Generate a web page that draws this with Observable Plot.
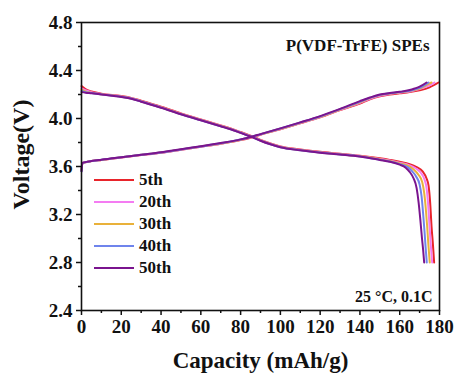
<!DOCTYPE html>
<html>
<head>
<meta charset="utf-8">
<script src="https://cdn.jsdelivr.net/npm/d3@7"></script>
<script src="https://cdn.jsdelivr.net/npm/@observablehq/plot@0.6"></script>
<style>
  body { margin: 0; background: #fff; }
  #wrap { position: relative; width: 454px; height: 376px; font-family: "Liberation Serif", "Times New Roman", serif; }
  #legend { position: absolute; left: 94px; top: 169px; }
  .row { display: flex; align-items: center; height: 22px; }
  .row span { font-size: 17px; font-weight: bold; margin-left: 5px; color: #111; }
</style>
</head>
<body>
<div id="wrap"><div id="legend"></div></div>
<script>
// ---- data ----
const cycles = ["5th", "20th", "30th", "40th", "50th"];
const colors = ["#e8242b", "#f47cf2", "#e9b13a", "#6f84ec", "#7a148e"];
const xTicks = [0, 20, 40, 60, 80, 100, 120, 140, 160, 180];
const yTicks = [2.4, 2.8, 3.2, 3.6, 4.0, 4.4, 4.8];
const xTitle = "Capacity (mAh/g)";
const yTitle = "Voltage(V)";
const note1 = "P(VDF-TrFE) SPEs";
const note2 = "25 \u00B0C, 0.1C";

// charge curves [capacity, voltage]
const charge5th = [[0,3.57],[0.5,3.63],[5,3.645],[10,3.655],[20,3.675],[30,3.695],[40,3.715],[50,3.74],[60,3.765],[70,3.79],[80,3.82],[85,3.84],[90,3.865],[100,3.91],[110,3.96],[120,4.01],[130,4.07],[140,4.125],[145,4.16],[150,4.185],[155,4.2],[160,4.21],[165,4.22],[170,4.235],[175,4.26],[179.5,4.3]];
const charge20th = [[0,3.57],[0.5,3.63],[5,3.645],[10,3.655],[20,3.675],[30,3.695],[40,3.715],[50,3.74],[60,3.765],[70,3.79],[80,3.822],[85,3.842],[90,3.867],[100,3.912],[110,3.962],[120,4.013],[130,4.073],[140,4.13],[145,4.165],[150,4.19],[155,4.205],[160,4.215],[165,4.225],[170,4.245],[174,4.27],[177.5,4.3]];
const charge30th = [[0,3.57],[0.5,3.63],[5,3.645],[10,3.655],[20,3.677],[30,3.697],[40,3.717],[50,3.742],[60,3.767],[70,3.792],[80,3.823],[85,3.843],[90,3.868],[100,3.914],[110,3.964],[120,4.015],[130,4.075],[140,4.135],[145,4.17],[150,4.195],[155,4.208],[160,4.218],[165,4.23],[170,4.25],[173,4.275],[176,4.3]];
const charge40th = [[0,3.56],[0.5,3.63],[5,3.645],[10,3.656],[20,3.677],[30,3.697],[40,3.717],[50,3.742],[60,3.767],[70,3.793],[80,3.825],[85,3.845],[90,3.869],[100,3.916],[110,3.966],[120,4.017],[130,4.078],[140,4.14],[145,4.172],[150,4.197],[155,4.21],[160,4.22],[165,4.232],[170,4.255],[174.5,4.3]];
const charge50th = [[0,3.56],[0.5,3.63],[5,3.645],[10,3.657],[20,3.678],[30,3.698],[40,3.718],[50,3.744],[60,3.768],[70,3.795],[80,3.826],[85,3.846],[90,3.87],[100,3.918],[110,3.968],[120,4.02],[130,4.08],[140,4.145],[145,4.175],[150,4.2],[155,4.212],[160,4.222],[165,4.237],[167.5,4.25],[170,4.265],[173.5,4.3]];

// discharge curves [capacity, voltage]
const discharge5th = [[0,4.27],[2,4.245],[5,4.225],[10,4.207],[20,4.187],[25,4.172],[30,4.148],[40,4.098],[50,4.043],[60,3.993],[70,3.943],[75,3.917],[80,3.887],[85,3.857],[90,3.822],[95,3.792],[100,3.767],[110,3.742],[120,3.722],[130,3.707],[140,3.69],[150,3.668],[155,3.655],[160,3.64],[165,3.62],[168.5,3.595],[171.5,3.56],[173.5,3.5],[174.5,3.44],[175.3,3.3],[176,3.1],[176.7,2.95],[177.3,2.8]];
const discharge20th = [[0,4.25],[2,4.235],[5,4.22],[10,4.204],[20,4.184],[25,4.169],[30,4.145],[40,4.095],[50,4.04],[60,3.99],[70,3.94],[75,3.914],[80,3.884],[85,3.854],[90,3.819],[95,3.789],[100,3.764],[110,3.739],[120,3.719],[130,3.704],[140,3.687],[150,3.663],[155,3.65],[160,3.632],[165,3.61],[168,3.585],[170.5,3.55],[172.5,3.49],[173.5,3.42],[174.3,3.28],[175,3.1],[175.6,2.95],[176.3,2.8]];
const discharge30th = [[0,4.24],[2,4.225],[5,4.215],[10,4.202],[20,4.182],[25,4.167],[30,4.142],[40,4.092],[50,4.038],[60,3.988],[70,3.938],[75,3.912],[80,3.882],[85,3.852],[90,3.817],[95,3.787],[100,3.762],[110,3.737],[120,3.717],[130,3.702],[140,3.685],[150,3.66],[155,3.645],[160,3.626],[165,3.6],[167,3.575],[169.5,3.53],[171.3,3.47],[172.3,3.38],[173.1,3.25],[173.8,3.1],[174.4,2.95],[175.1,2.8]];
const discharge40th = [[0,4.23],[2,4.22],[5,4.212],[10,4.201],[20,4.181],[25,4.166],[30,4.141],[40,4.091],[50,4.036],[60,3.986],[70,3.936],[75,3.911],[80,3.881],[85,3.851],[90,3.816],[95,3.786],[100,3.761],[110,3.736],[120,3.716],[130,3.701],[140,3.684],[150,3.657],[155,3.642],[160,3.62],[164,3.595],[166,3.565],[168.3,3.515],[170,3.45],[171,3.35],[171.8,3.2],[172.5,3.05],[173,2.93],[173.6,2.8]];
const discharge50th = [[0,4.22],[2,4.215],[5,4.21],[10,4.2],[20,4.18],[25,4.165],[30,4.14],[40,4.09],[50,4.035],[60,3.985],[70,3.935],[75,3.91],[80,3.88],[85,3.85],[90,3.815],[95,3.785],[100,3.76],[110,3.735],[120,3.715],[130,3.7],[140,3.683],[150,3.655],[155,3.64],[160,3.615],[163,3.59],[165,3.555],[167,3.5],[168.5,3.42],[169.5,3.3],[170.4,3.15],[171.2,3.0],[171.8,2.9],[172.3,2.8]];

const chargeSeries = [charge5th, charge20th, charge30th, charge40th, charge50th];
const dischargeSeries = [discharge5th, discharge20th, discharge30th, discharge40th, discharge50th];

// ---- build table ----
const rows = [];
cycles.forEach((c, i) => {
  dischargeSeries[i].forEach(([x, y]) => rows.push({cycle: c, key: c + "-d", cap: x, v: y}));
  chargeSeries[i].forEach(([x, y]) => rows.push({cycle: c, key: c + "-c", cap: x, v: y}));
});

const xMinor = d3.range(0, 181, 10).filter(d => !xTicks.includes(d));
const yMinor = d3.range(2.6, 4.8, 0.4).map(d => +d.toFixed(1));

const font = "Liberation Serif";
const chart = Plot.plot({
  width: 454,
  height: 376,
  marginLeft: 81,
  marginRight: 15,
  marginTop: 22,
  marginBottom: 66,
  style: {fontFamily: font, fontWeight: "bold", fontSize: "19px", color: "#111", background: "white"},
  x: {domain: [0, 180]},
  y: {domain: [2.4, 4.8]},
  color: {domain: cycles, range: colors},
  marks: [
    Plot.line(rows, {x: "cap", y: "v", z: "key", stroke: "cycle", strokeWidth: 2, curve: "monotone-x"}),
    Plot.frame({stroke: "#111", strokeWidth: 1.6}),
    Plot.axisX({ticks: xTicks, tickSize: 5, tickPadding: 4, tickFormat: d => String(d), label: null, fontSize: 19, fontWeight: "bold", strokeWidth: 1.5}),
    Plot.axisX({ticks: xMinor, tickSize: 3, tickFormat: () => "", label: null, strokeWidth: 1.5}),
    Plot.axisY({ticks: yTicks, tickSize: 5, tickPadding: 4, tickFormat: d3.format(".1f"), label: null, fontSize: 19, fontWeight: "bold", strokeWidth: 1.5}),
    Plot.axisY({ticks: yMinor, tickSize: 3, tickFormat: () => "", label: null, strokeWidth: 1.5}),
    Plot.text([xTitle], {text: d => d, frameAnchor: "bottom", dy: 50, fontSize: 23, fontWeight: "bold", lineAnchor: "middle"}),
    Plot.text([yTitle], {text: d => d, frameAnchor: "left", textAnchor: "middle", rotate: -90, dx: -60, dy: -12, fontSize: 24, fontWeight: "bold", lineAnchor: "middle"}),
    Plot.text([note1], {text: d => d, frameAnchor: "top-right", textAnchor: "end", dx: -10, dy: 23, fontSize: 17, fontWeight: "bold", lineAnchor: "middle"}),
    Plot.text([note2], {text: d => d, frameAnchor: "bottom-right", textAnchor: "end", dx: -7, dy: -14, fontSize: 16, fontWeight: "bold", lineAnchor: "middle"})
  ]
});
document.getElementById("wrap").prepend(chart);

// ---- legend ----
const legend = d3.select("#legend");
cycles.forEach((c, i) => {
  const row = legend.append("div").attr("class", "row");
  const sw = row.append("svg").attr("width", 40).attr("height", 22);
  sw.append("line").attr("x1", 0).attr("x2", 40).attr("y1", 11).attr("y2", 11)
    .attr("stroke", colors[i]).attr("stroke-width", 2);
  row.append("span").text(c);
});
</script>
</body>
</html>
